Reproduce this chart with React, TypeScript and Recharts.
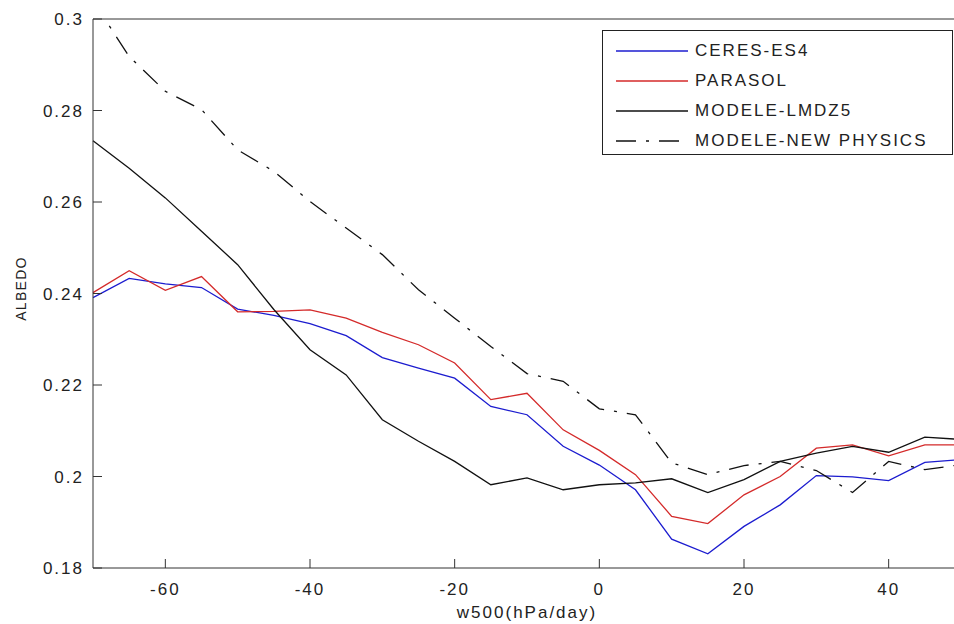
import React from 'react';
import { LineChart, Line, XAxis, YAxis, Legend } from 'recharts';

const FONT = '"Liberation Sans", Arial, Helvetica, sans-serif';

const xValues = [-70, -65, -60, -55, -50, -45, -40, -35, -30, -25, -20, -15, -10, -5, 0, 5, 10, 15, 20, 25, 30, 35, 40, 45, 50];

const ceresES4 = [0.2391, 0.2433, 0.2421, 0.2413, 0.2366, 0.2352, 0.2334, 0.2308, 0.2260, 0.2237, 0.2215, 0.2153, 0.2135, 0.2066, 0.2025, 0.1971, 0.1863, 0.1831, 0.1891, 0.1938, 0.2002, 0.1999, 0.1991, 0.2031, 0.2037];

const parasol = [0.2402, 0.2450, 0.2407, 0.2437, 0.2360, 0.2361, 0.2364, 0.2346, 0.2315, 0.2288, 0.2248, 0.2168, 0.2182, 0.2102, 0.2057, 0.2004, 0.1913, 0.1897, 0.1960, 0.2000, 0.2062, 0.2069, 0.2045, 0.2069, 0.2069];

const modeleLMDZ5 = [0.2734, 0.2674, 0.2609, 0.2536, 0.2463, 0.2365, 0.2277, 0.2222, 0.2124, 0.2077, 0.2033, 0.1982, 0.1997, 0.1971, 0.1982, 0.1986, 0.1995, 0.1965, 0.1993, 0.2033, 0.2051, 0.2066, 0.2053, 0.2086, 0.2081];

const modeleNewPhysics = [0.3040, 0.2918, 0.2842, 0.2802, 0.2714, 0.2667, 0.2601, 0.2543, 0.2485, 0.2408, 0.2346, 0.2284, 0.2225, 0.2208, 0.2148, 0.2135, 0.2030, 0.2004, 0.2024, 0.2033, 0.2013, 0.1965, 0.2033, 0.2015, 0.2026];

const xTicks = [-60, -40, -20, 0, 20, 40];
const yTicks = [0.18, 0.2, 0.22, 0.24, 0.26, 0.28, 0.3];

const seriesNames = ['CERES-ES4', 'PARASOL', 'MODELE-LMDZ5', 'MODELE-NEW PHYSICS'];

const data = xValues.map((x, i) => ({
  x,
  ceres: ceresES4[i],
  parasol: parasol[i],
  lmdz5: modeleLMDZ5[i],
  newphys: modeleNewPhysics[i],
}));

const series = [
  { key: 'ceres', name: seriesNames[0], color: '#1c1ccf', dash: undefined as string | undefined },
  { key: 'parasol', name: seriesNames[1], color: '#d42a2a', dash: undefined as string | undefined },
  { key: 'lmdz5', name: seriesNames[2], color: '#111111', dash: undefined as string | undefined },
  { key: 'newphys', name: seriesNames[3], color: '#111111', dash: '20 10 3 10' },
];

const tickStyle = { fill: '#222', fontSize: 17, letterSpacing: 2, fontFamily: FONT };

const LegendBox = () => (
  <div
    style={{
      boxSizing: 'border-box',
      width: 351,
      height: 125,
      border: '1.5px solid #222',
      background: '#fff',
      paddingTop: 5,
      fontFamily: FONT,
      fontSize: 17,
      letterSpacing: 2,
      color: '#222',
    }}
  >
    {series.map((s) => (
      <div key={s.key} style={{ display: 'flex', alignItems: 'center', height: 30 }}>
        <svg width={72} height={10} style={{ marginLeft: 13, marginRight: 7 }}>
          <line x1={0} y1={5} x2={72} y2={5} stroke={s.color} strokeWidth={1.3} strokeDasharray={s.dash} />
        </svg>
        <span style={{ whiteSpace: 'nowrap' }}>{s.name}</span>
      </div>
    ))}
  </div>
);

const YLabel = (props: any) => {
  const vb = props.viewBox || {};
  const cx = 21;
  const cy = (vb.y || 0) + (vb.height || 0) / 2 - 5;
  return (
    <text
      x={cx}
      y={cy}
      transform={`rotate(-90, ${cx}, ${cy})`}
      textAnchor="middle"
      dominantBaseline="central"
      fill="#222"
      fontSize={14}
      letterSpacing={1.3}
      fontFamily={FONT}
    >
      ALBEDO
    </text>
  );
};

export default function App() {
  return (
    <div
      style={{
        position: 'absolute',
        left: 0,
        top: 0,
        width: 954,
        height: 624,
        overflow: 'hidden',
        background: '#fff',
      }}
    >
      <LineChart width={980} height={624} data={data} margin={{ top: 18, right: 0, bottom: 0, left: 0 }}>
        <XAxis
          dataKey="x"
          type="number"
          domain={[-70, 50]}
          ticks={xTicks}
          height={56}
          tickSize={-9}
          tickMargin={24}
          stroke="#333"
          tick={tickStyle}
          label={{
            value: 'w500(hPa/day)',
            position: 'insideBottom',
            offset: 6,
            fill: '#222',
            fontSize: 17,
            letterSpacing: 2,
            fontFamily: FONT,
          }}
        />
        <XAxis
          xAxisId="top"
          orientation="top"
          type="number"
          domain={[-70, 50]}
          ticks={xTicks}
          height={1}
          tickSize={-9}
          tick={false}
          stroke="#333"
        />
        <YAxis
          type="number"
          domain={[0.18, 0.3]}
          ticks={yTicks}
          allowDataOverflow
          width={93}
          tickSize={-9}
          tickMargin={18}
          stroke="#333"
          tick={tickStyle}
          tickFormatter={(v: number) => String(Number(v.toFixed(2)))}
          label={<YLabel />}
        />
        <YAxis
          yAxisId="right"
          orientation="right"
          type="number"
          domain={[0.18, 0.3]}
          ticks={yTicks}
          allowDataOverflow
          width={19}
          tickSize={-9}
          tick={false}
          stroke="#333"
        />
        <Legend
          layout="vertical"
          align="center"
          verticalAlign="middle"
          wrapperStyle={{ position: 'absolute', left: 602, top: 30, width: 351, height: 125 }}
          content={() => <LegendBox />}
        />
        {series.map((s) => (
          <Line
            key={s.key}
            type="linear"
            dataKey={s.key}
            name={s.name}
            stroke={s.color}
            strokeWidth={1.3}
            strokeDasharray={s.dash}
            dot={false}
            activeDot={false}
            isAnimationActive={false}
          />
        ))}
      </LineChart>
    </div>
  );
}
